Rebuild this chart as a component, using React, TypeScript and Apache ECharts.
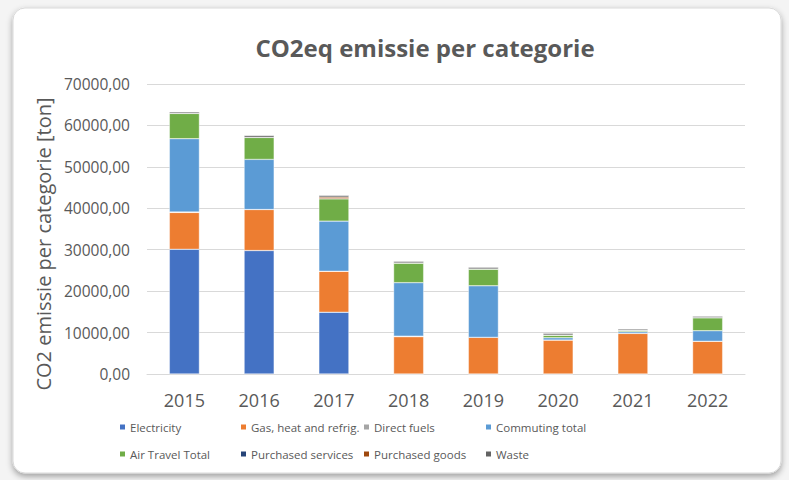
import React, { useEffect, useRef } from "react";
import * as echarts from "echarts";

const years = ["2015", "2016", "2017", "2018", "2019", "2020", "2021", "2022"];
const seriesNames = [
  "Electricity",
  "Gas, heat and refrig.",
  "Direct fuels",
  "Commuting total",
  "Air Travel Total",
  "Purchased services",
  "Purchased goods",
  "Waste",
];
const seriesColors = ["#4472C4", "#ED7D31", "#A5A5A5", "#5B9BD5", "#70AD47", "#264478", "#9E480E", "#636363"];

const electricity = [30100, 29800, 14900, 0, 0, 0, 0, 0];
const gas = [8900, 9900, 9900, 9000, 8850, 8200, 9800, 7900];
const directFuels = [100, 0, 0, 150, 0, 0, 0, 0];
const commuting = [17700, 12100, 12100, 12900, 12450, 550, 400, 2550];
const airTravel = [6100, 5300, 5400, 4750, 4050, 650, 330, 3150];
const purchasedServices = [0, 0, 0, 0, 0, 0, 0, 0];
const purchasedGoods = [0, 0, 400, 0, 0, 0, 0, 0];
const waste = [350, 450, 400, 380, 400, 400, 320, 330];

const seriesData = [electricity, gas, directFuels, commuting, airTravel, purchasedServices, purchasedGoods, waste];

const yTicks = { min: 0, max: 70000, interval: 10000 };

const legendLayout = [
  { left: 118, top: 421 },
  { left: 239, top: 421 },
  { left: 362, top: 421 },
  { left: 484, top: 421 },
  { left: 118, top: 448 },
  { left: 239, top: 448 },
  { left: 362, top: 448 },
  { left: 484, top: 448 },
];

const FONT = "'Open Sans', 'Noto Sans', sans-serif";
const TXT = "#595959";

export default function App() {
  const ref = useRef<HTMLDivElement>(null);
  useEffect(() => {
    document.body.style.margin = "0";
    const chart = echarts.init(ref.current!, undefined, { renderer: "svg" });
    chart.setOption({
      animation: false,
      backgroundColor: "#f4f4f4",
      graphic: [
        {
          type: "rect",
          z: -10,
          silent: true,
          shape: { x: 13, y: 8, width: 768, height: 465, r: 12 },
          style: {
            fill: "#ffffff",
            stroke: "#d9d9d9",
            lineWidth: 1,
            shadowBlur: 6,
            shadowOffsetY: 3,
            shadowColor: "rgba(0,0,0,0.35)",
          },
        },
      ],
      title: {
        text: "CO2eq emissie per categorie",
        left: 420,
        textAlign: "center",
        top: 30,
        textStyle: { fontFamily: FONT, fontSize: 24, fontWeight: "bold", color: TXT },
      },
      legend: seriesNames.map((name, i) => ({
        data: [name],
        left: legendLayout[i].left,
        top: legendLayout[i].top,
        itemWidth: 7,
        itemHeight: 7,
        icon: "rect",
        itemGap: 0,
        padding: 0,
        selectedMode: false,
        textStyle: { fontFamily: FONT, fontSize: 11.5, color: TXT, padding: [0, 0, 0, -1] },
      })),
      grid: { left: 147, right: 44, top: 84, bottom: 106, containLabel: false },
      xAxis: {
        type: "category",
        data: years,
        axisLine: { lineStyle: { color: "#d9d9d9", width: 1 } },
        axisTick: { show: false },
        axisLabel: { fontFamily: FONT, fontSize: 18, color: TXT, margin: 17 },
      },
      yAxis: {
        type: "value",
        min: yTicks.min,
        max: yTicks.max,
        interval: yTicks.interval,
        name: "CO2 emissie per categorie [ton]",
        nameLocation: "middle",
        nameGap: 92,
        nameTextStyle: { fontFamily: FONT, fontSize: 20, color: TXT, padding: [0, 30, 0, 0] },
        axisLine: { show: false },
        axisTick: { show: false },
        splitLine: { lineStyle: { color: "#d9d9d9", width: 1 } },
        axisLabel: {
          fontFamily: FONT,
          fontSize: 15.5,
          color: TXT,
          margin: 17,
          formatter: (v: number) => v.toFixed(2).replace(".", ","),
        },
      },
      series: seriesNames.map((name, i) => ({
        name,
        type: "bar",
        stack: "total",
        barWidth: 30,
        data: seriesData[i],
        itemStyle: { color: seriesColors[i], borderColor: "#ffffff", borderWidth: 0.4 },
      })),
    });
    return () => chart.dispose();
  }, []);
  return <div ref={ref} style={{ width: 789, height: 480 }} />;
}
